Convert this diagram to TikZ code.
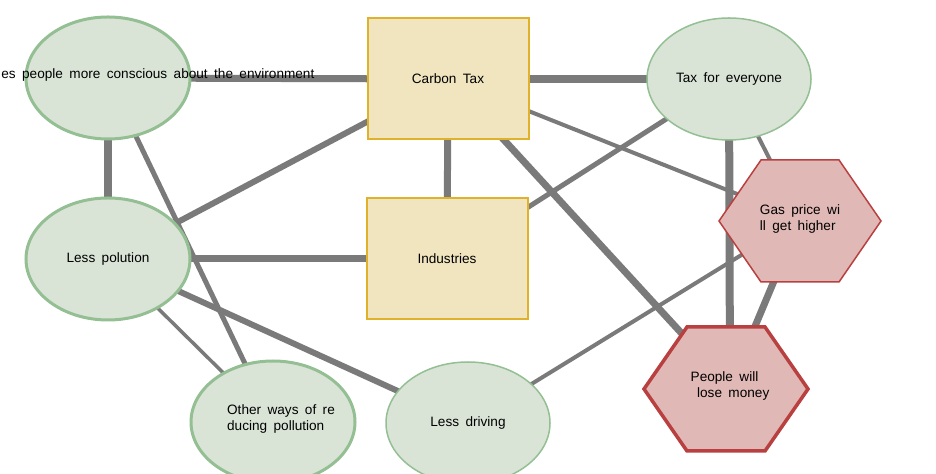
\documentclass[tikz,border=0pt]{standalone}
\usepackage{fontspec}
\setmainfont{Liberation Sans}[WordSpace=1.7]
\usetikzlibrary{shapes.geometric,backgrounds}
\definecolor{edgegray}{HTML}{7A7A7A}
\definecolor{ovalfill}{HTML}{D9E4D7}
\definecolor{ovalline}{HTML}{93BF93}
\definecolor{boxfill}{HTML}{F1E5C0}
\definecolor{boxline}{HTML}{E0B22C}
\definecolor{hexfill}{HTML}{E0B8B5}
\definecolor{hexline}{HTML}{B94040}
\tikzset{
  oval/.style={ellipse,fill=ovalfill,draw=ovalline,minimum width=82pt,minimum height=61pt,inner sep=0pt},
  box/.style={rectangle,fill=boxfill,draw=boxline,line width=1pt,minimum width=80.5pt,minimum height=60.5pt},
  hexlabel/.style={align=left,inner sep=0pt},
  hexshape/.style={fill=hexfill,draw=hexline,line join=miter}
}
\begin{document}
\begin{tikzpicture}[x=0.5pt,y=-0.5pt,font=\fontsize{6.8pt}{8pt}\selectfont]
            \useasboundingbox (0,0) rectangle (936,474);
            \begin{scope}[every node/.style={oval,line width=1.5pt}]
                \node (conscious) at (108,78) {};
                \node (lesspol) at (108,259) {Less polution};
                \node (otherways) at (273,422) {};
            \end{scope}
            \node[anchor=west,inner sep=0pt] (consciouslabel) at (1,75) {es people more conscious about the environment};
            \node[hexlabel] (otherlabel) at (281,419) {Other ways of re\\ducing pollution};
            \begin{scope}[every node/.style={oval,line width=0.75pt}]
                \node (taxall) at (729,79) {Tax for everyone};
                \node (driving) at (468,423) {Less driving};
            \end{scope}
            \begin{scope}[every node/.style={box}]
                \node (carbon) at (448,79) {Carbon Tax};
                \node (industries) at (447,259) {Industries};
            \end{scope}
            \node[hexlabel] (gas) at (800,219) {Gas price wi\\ll get higher};
            \node[hexlabel] (money) at (730,386) {People will\\\ lose money};
            \begin{scope}[on background layer]
                \begin{scope}[every path/.style={draw=edgegray}]
                    \path (conscious.center) edge[line width=3.5pt] (carbon.center);
                    \path (conscious.center) edge[line width=4pt] (lesspol.center);
                    \path (conscious.center) edge[line width=2.5pt] (otherways.center);
                    \path (carbon.center) edge[line width=3.75pt] (taxall.center);
                    \path (carbon.center) edge[line width=3.5pt] (industries.center);
                    \path (carbon.center) edge[line width=3pt] (lesspol.center);
                    \path (carbon.center) edge[line width=2pt] (gas.center);
                    \path (carbon.center) edge[line width=3.5pt] (money.center);
                    \path (taxall.center) edge[line width=4pt] (money.center);
                    \path (taxall.center) edge[line width=2pt] (gas.center);
                    \path (taxall.center) edge[line width=2.5pt] (industries.center);
                    \path (gas.center) edge[line width=3.5pt] (money.center);
                    \path (gas.center) edge[line width=2pt] (driving.center);
                    \path (lesspol.center) edge[line width=3.5pt] (industries.center);
                    \path (lesspol.center) edge[line width=1.75pt] (otherways.center);
                    \path (lesspol.center) edge[line width=3pt] (driving.center);
                \end{scope}
                % hexagons over the edges, under the labels
                \draw[hexshape,line width=0.75pt] (800,221) ++(-81,0) -- ++(42,-61) -- ++(78,0) -- ++(42,61) -- ++(-42,61) -- ++(-78,0) -- cycle;
                \draw[hexshape,line width=1.75pt] (726,389) ++(-82,0) -- ++(43,-62) -- ++(78,0) -- ++(43,62) -- ++(-43,62) -- ++(-78,0) -- cycle;
            \end{scope}
        \end{tikzpicture}
\end{document}
